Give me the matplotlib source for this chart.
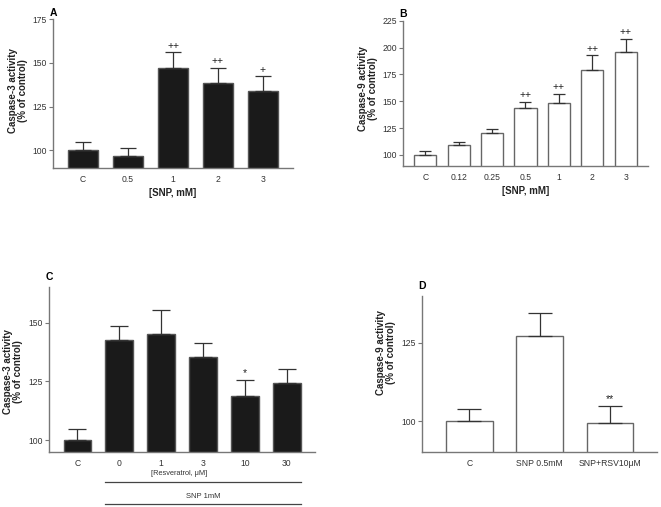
import matplotlib
matplotlib.use("Agg")
import matplotlib.pyplot as plt

plt.rcParams['font.family'] = ['Liberation Sans', 'DejaVu Sans']

# panel A: caspase-3 vs SNP
a_labels = ["C", "0.5", "1", "2", "3"]
a_mean = [100.5, 96.6, 147.0, 138.3, 134.0]
a_err = [4.3, 5.1, 9.0, 8.9, 8.4]
a_marks = ["", "", "++", "++", "+"]

# panel B: caspase-9 vs SNP
b_labels = ["C", "0.12", "0.25", "0.5", "1", "2", "3"]
b_mean = [100.3, 109.0, 120.0, 143.8, 148.1, 179.0, 196.3]
b_err = [3.7, 3.3, 4.4, 5.6, 8.7, 13.9, 12.0]
b_marks = ["", "", "", "++", "++", "++", "++"]

# panel C: caspase-3 vs resveratrol + SNP 1mM
c_labels = ["C", "0", "1", "3", "10", "30"]
c_mean = [99.9, 142.8, 145.3, 135.3, 118.9, 124.4]
c_err = [4.8, 5.8, 10.2, 6.1, 6.8, 5.7]
c_marks = ["", "", "", "", "*", ""]

# panel D: caspase-9
d_labels = ["C", "SNP 0.5mM", "SNP+RSV10\u03bcM"]
d_mean = [99.9, 127.2, 99.5]
d_err = [4.0, 7.5, 5.4]
d_marks = ["", "", "**"]

axis_col = "#777777"
text_col = "#333333"


def panel(fig, rect, labels, mean, err, marks, ylim, yticks, fill, edge,
          capsize, letter, ylabel, label_xy, xlabel=None):
    ax = fig.add_axes(rect)
    x = list(range(len(labels)))
    ax.bar(x, mean, width=0.66, color=fill, edgecolor=edge, linewidth=1.0,
           zorder=2)
    ax.errorbar(x, mean, yerr=[[0] * len(x), err], fmt="none",
                ecolor="#333333", elinewidth=0.9, capsize=capsize,
                capthick=0.9, zorder=3)
    for xi, m, e, t in zip(x, mean, err, marks):
        if t:
            ax.text(xi, m + e + (ylim[1] - ylim[0]) * 0.01, t, ha="center",
                    va="bottom", fontsize=7.5, color="#222222")
    ax.set_xlim(-0.67, len(x) - 1 + 0.67)
    ax.set_ylim(*ylim)
    ax.set_yticks(yticks)
    ax.set_xticks(x)
    ax.set_xticklabels(labels)
    for s in ["top", "right"]:
        ax.spines[s].set_visible(False)
    for s in ["left", "bottom"]:
        ax.spines[s].set_color(axis_col)
        ax.spines[s].set_linewidth(1.0)
    ax.spines["left"].set_bounds(ylim[0], yticks[-1] if letter in "AB" else ylim[1])
    ax.tick_params(axis="y", length=3, width=0.8, color=axis_col, pad=1.5,
                   labelsize=6.2, labelcolor=text_col)
    ax.tick_params(axis="x", length=0, pad=5, labelsize=6.2,
                   labelcolor=text_col)
    ax.set_ylabel(ylabel, fontsize=7, fontweight="bold", color="#222222",
                  linespacing=1.0)
    ax.yaxis.set_label_coords(*label_xy)
    if xlabel:
        ax.set_xlabel(xlabel, fontsize=7, fontweight="bold", color="#222222",
                      labelpad=3)
    ax.text(0.0, 1.01 if letter in "AB" else 1.03, letter,
            transform=ax.transAxes, ha="center", va="bottom", fontsize=7.5,
            fontweight="bold")
    return ax


fig = plt.figure(figsize=(6.61, 5.07), dpi=100)

panel(fig, [0.0802, 0.6686, 0.3631, 0.2939], a_labels, a_mean, a_err, a_marks,
      (90, 175), [100, 125, 150, 175], "#1a1a1a", "#555555", 5.5, "A",
      "Caspase-3 activity\n(% of control)", (-0.104, 0.52), "[SNP, mM]")

panel(fig, [0.6097, 0.6732, 0.3706, 0.2860], b_labels, b_mean, b_err, b_marks,
      (90, 225), [100, 125, 150, 175, 200, 225], "white", "#666666", 4.2, "B",
      "Caspase-9 activity\n(% of control)", (-0.102, 0.53), "[SNP, mM]")

axc = panel(fig, [0.0746, 0.1085, 0.4020, 0.3248], c_labels, c_mean, c_err,
            c_marks, (95, 165), [100, 125, 150], "#1a1a1a", "#555555", 6.7,
            "C", "Caspase-3 activity\n(% of control)", (-0.100, 0.486))

panel(fig, [0.6389, 0.1079, 0.3550, 0.3083], d_labels, d_mean, d_err, d_marks,
      (90, 140), [100, 125], "white", "#666666", 8.5, "D",
      "Caspase-9 activity\n(% of control)", (-0.113, 0.64))

# group annotation under panel C
tr = axc.get_xaxis_transform()
axc.text(2.42, -0.128, "[Resveratrol, \u03bcM]", transform=tr, ha="center",
         va="center", fontsize=5.3, color=text_col)
axc.plot([0.67, 5.33], [-0.184, -0.184], transform=tr, color="#444444",
         lw=0.9, clip_on=False)
axc.text(3.0, -0.271, "SNP 1mM", transform=tr, ha="center", va="center",
         fontsize=5.5, color=text_col)
axc.plot([0.67, 5.33], [-0.318, -0.318], transform=tr, color="#444444",
         lw=0.9, clip_on=False)

fig.savefig("out.png", dpi=100)
